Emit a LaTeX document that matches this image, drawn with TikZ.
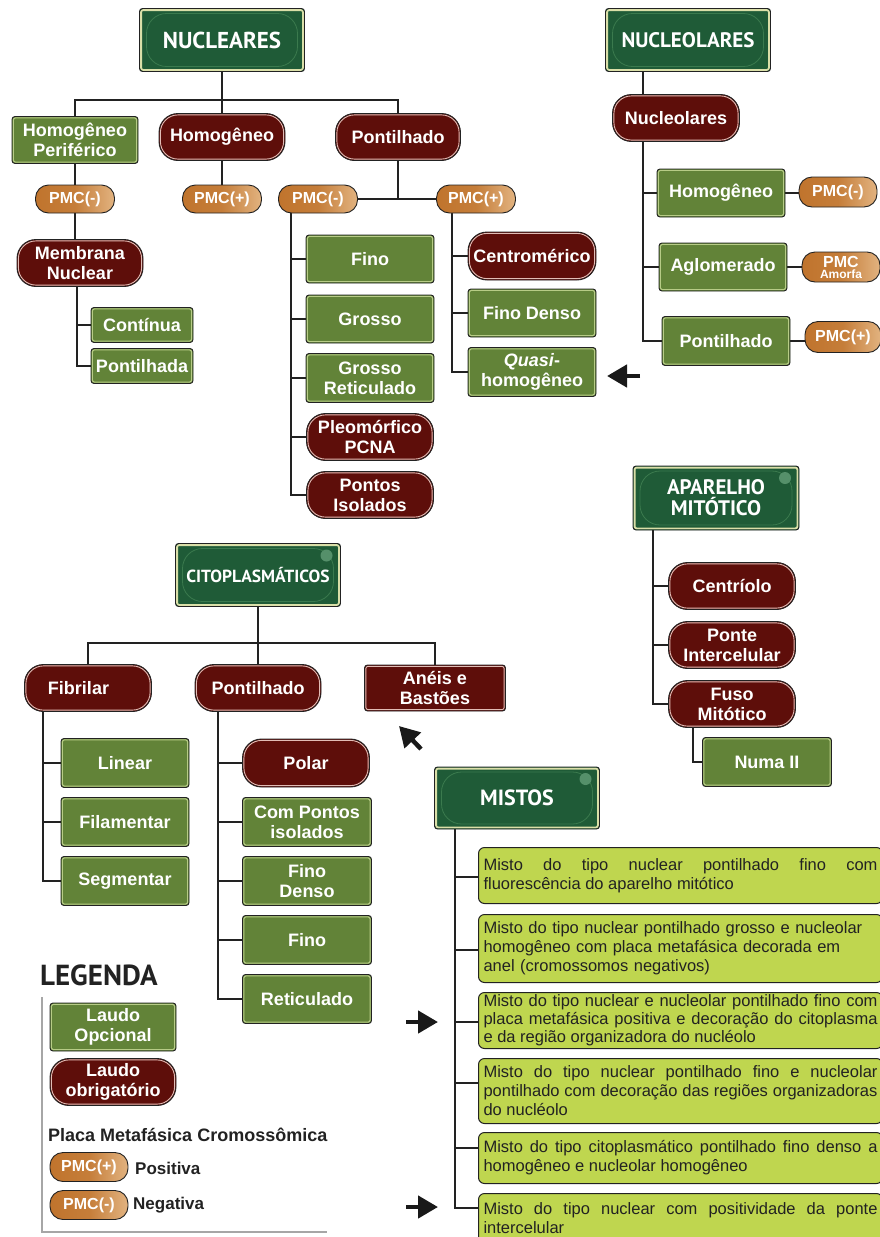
\documentclass[tikz,border=0pt]{standalone}
\usepackage{fontspec}
\setmainfont{Liberation Sans}
\newfontfamily\hdfont{PT Sans}
\usetikzlibrary{arrows.meta}
\pgfdeclarelayer{bg}
\pgfsetlayers{bg,main}
\definecolor{gfill}{HTML}{628338}
\definecolor{gline}{HTML}{B7CC86}
\definecolor{rfill}{HTML}{5E0E0A}
\definecolor{rline}{HTML}{E2BDB6}
\definecolor{hfill}{HTML}{1F5B37}
\definecolor{hcream}{HTML}{DADFA8}
\definecolor{hpill}{HTML}{3B7A4E}
\definecolor{hcirc}{HTML}{55906A}
\definecolor{pmcA}{HTML}{C0742D}
\definecolor{pmcB}{HTML}{E2B380}
\definecolor{lime}{HTML}{BFD64F}
\definecolor{ink}{HTML}{222222}
\newcommand\hdrdeco{%
 \draw[hcream, line width=1.8pt, rounded corners=2pt] ([shift={(1.6pt,-1.6pt)}]path picture bounding box.north west) rectangle ([shift={(-1.6pt,1.6pt)}]path picture bounding box.south east);
 \draw[hpill, line width=0.8pt, rounded corners=20pt] ([shift={(7pt,-5pt)}]path picture bounding box.north west) rectangle ([shift={(-7pt,5pt)}]path picture bounding box.south east);}
\newcommand\hdrcirc{\fill[hcirc] ([shift={(-14pt,-12pt)}]path picture bounding box.north east) circle[radius=6pt];}
\newcommand\mfont{\fontsize{16.5}{19}\selectfont\hyphenpenalty=10000\relax\tolerance=9999\relax}
\newcommand\mfontb{\fontsize{16.5}{18}\selectfont\hyphenpenalty=10000\relax\tolerance=9999\relax}
\tikzset{
 hdr/.style={inner sep=0pt, align=center, text=white, rounded corners=3pt, fill=hfill, draw=ink, line width=0.9pt, minimum width=165pt, minimum height=63pt, path picture={\hdrdeco}},
 hdrc/.style={hdr, path picture={\hdrdeco\hdrcirc}},
 gbox/.style={inner sep=0pt, align=center, text=white, font=\bfseries\fontsize{18}{20}\selectfont, rounded corners=3pt, fill=gfill, draw=ink, line width=0.9pt, minimum width=128pt, minimum height=48pt,
   path picture={\draw[gline, line width=1.1pt, rounded corners=2pt] ([shift={(1.4pt,-1.4pt)}]path picture bounding box.north west) rectangle ([shift={(-1.4pt,1.4pt)}]path picture bounding box.south east);}},
 rbox/.style={inner sep=0pt, align=center, text=white, font=\bfseries\fontsize{18}{20}\selectfont, rounded corners=19pt, fill=rfill, draw=ink, line width=0.9pt, minimum width=127pt, minimum height=47pt,
   path picture={\draw[rline, line width=0.9pt, rounded corners=17.6pt] ([shift={(1.4pt,-1.4pt)}]path picture bounding box.north west) rectangle ([shift={(-1.4pt,1.4pt)}]path picture bounding box.south east);}},
 rsq/.style={rbox, rounded corners=3pt,
   path picture={\draw[rline, line width=0.9pt, rounded corners=2pt] ([shift={(1.4pt,-1.4pt)}]path picture bounding box.north west) rectangle ([shift={(-1.4pt,1.4pt)}]path picture bounding box.south east);}},
 pmc/.style={inner sep=0pt, align=center, text=white, font=\bfseries\fontsize{16}{18}\selectfont, rounded corners=13pt, left color=pmcA, right color=pmcB, middle color=pmcA!85!pmcB, draw=ink, line width=0.9pt, minimum width=79pt, minimum height=28pt},
 mbox/.style={anchor=north west, rounded corners=6pt, fill=lime, draw=ink, line width=1pt, text width=394pt, inner xsep=5pt, inner ysep=0pt, align=justify, text=ink, font=\mfont},
 legtxt/.style={anchor=west, inner sep=0pt, text=ink, font=\bfseries\fontsize{17}{20}\selectfont},
 conn/.style={draw=ink, line width=2.6pt},
 bigarr/.style={draw=black!90, line width=4.5pt, -{Triangle[length=20pt,width=22pt]}},
}
\begin{document}
\begin{tikzpicture}[x=1pt,y=-1pt]
\useasboundingbox (0,0) rectangle (880,1237);
% ---------- NUCLEARES
\node[hdr, font=\hdfont\bfseries\fontsize{23}{26}\selectfont] (nuc) at (222,40) {NUCLEARES};
\node[gbox, minimum width=126pt, minimum height=47pt] (hp) at (75,140) {Homogêneo\\Periférico};
\node[rbox, minimum width=126pt] (hom) at (222,137) {Homogêneo};
\node[rbox, minimum width=125pt] (pont) at (398,137) {Pontilhado};
\node[pmc] (p1) at (75,199) {PMC(-)};
\node[pmc] (p2) at (222,199) {PMC(+)};
\node[pmc] (p3) at (318,199) {PMC(-)};
\node[pmc] (p4) at (476,199) {PMC(+)};
\node[rbox, minimum width=126pt] (memb) at (80,263) {Membrana\\Nuclear};
\node[gbox, minimum width=102pt, minimum height=35pt] (cont) at (142,325) {Contínua};
\node[gbox, minimum width=102pt, minimum height=35pt] (pontd) at (142,366) {Pontilhada};
\node[gbox] (fino) at (370,259) {Fino};
\node[gbox] (grosso) at (370,319) {Grosso};
\node[gbox, minimum height=49pt] (gret) at (370,378) {Grosso\\Reticulado};
\node[rbox] (pleo) at (370,437) {Pleomórfico\\PCNA};
\node[rbox] (pisol) at (370,495) {Pontos\\Isolados};
\node[rbox, minimum width=128pt, minimum height=48pt] (centro) at (532,256) {Centromérico};
\node[gbox] (fdenso) at (532,313) {Fino Denso};
\node[gbox, minimum height=49pt] (quasi) at (532,372) {\textit{Quasi}-\\homogêneo};
% ---------- NUCLEOLARES
\node[hdr, font=\hdfont\bfseries\fontsize{21}{24}\selectfont] (nucl) at (688,40) {NUCLEOLARES};
\node[rbox] (nred) at (676,118) {Nucleolares};
\node[gbox] (nhom) at (721,193) {Homogêneo};
\node[gbox] (aglo) at (723,267) {Aglomerado};
\node[gbox, minimum height=49pt] (npont) at (726,341) {Pontilhado};
\node[pmc, minimum width=78pt, minimum height=30pt] (p5) at (838,192) {PMC(-)};
\node[pmc, minimum width=78pt, minimum height=30pt, font=\bfseries\fontsize{12}{11}\selectfont] (p6) at (841,267) {{\fontsize{16}{11}\selectfont PMC}\\Amorfa};
\node[pmc, minimum width=76pt, minimum height=31pt] (p7) at (843,337) {PMC(+)};
% ---------- CITOPLASMATICOS
\node[hdrc, font=\hdfont\bfseries\fontsize{17.5}{20}\selectfont] (cito) at (258,575) {CITOPLASMÁTICOS};
\node[rbox] (fib) at (88,688) {Fibrilar\hspace*{19pt}};
\node[rbox, minimum width=126pt] (cpont) at (258,688) {Pontilhado};
\node[rsq, minimum width=141pt, minimum height=46pt] (aneis) at (435,688) {Anéis e\\Bastões};
\node[gbox, minimum height=49pt] (linear) at (125,763) {Linear};
\node[gbox, minimum height=49pt] (filam) at (125,822) {Filamentar};
\node[gbox, minimum height=49pt] (segm) at (125,881) {Segmentar};
\node[rbox, minimum height=48pt] (polar) at (306,763) {Polar};
\node[gbox, minimum width=129pt, minimum height=49pt] (cpi) at (307,822) {Com Pontos\\isolados};
\node[gbox, minimum width=129pt, minimum height=49pt] (cfd) at (307,881) {Fino\\Denso};
\node[gbox, minimum width=129pt, minimum height=49pt] (cfino) at (307,940) {Fino};
\node[gbox, minimum width=129pt, minimum height=49pt] (cret) at (307,999) {Reticulado};
% ---------- APARELHO MITOTICO
\node[hdrc, minimum width=166pt, minimum height=64pt, font=\hdfont\bfseries\fontsize{21}{21}\selectfont] (apar) at (716,498) {APARELHO\\MITÓTICO};
\node[rbox] (centr) at (732,586) {Centríolo};
\node[rbox] (ponte) at (732,645) {Ponte\\Intercelular};
\node[rbox] (fuso) at (732,704) {Fuso\\Mitótico};
\node[gbox, minimum width=129pt, minimum height=49pt] (numa) at (767,762) {Numa II};
% ---------- MISTOS
\node[hdrc, minimum height=62pt, font=\hdfont\bfseries\fontsize{22}{25}\selectfont] (mist) at (517,798) {MISTOS};
\node[mbox, minimum height=56pt] (m1) at (478,847) {Misto do tipo nuclear pontilhado fino com\linebreak fluorescência do aparelho mitótico};
\node[mbox, minimum height=68pt, align=left] (m2) at (478,914) {Misto do tipo nuclear pontilhado grosso e nucleolar\\homogêneo com placa metafásica decorada em\\anel (cromossomos negativos)};
\node[mbox, minimum height=56pt, font=\mfontb] (m3) at (478,992) {Misto do tipo nuclear e nucleolar pontilhado fino com\linebreak placa metafásica positiva e decoração do citoplasma\linebreak e da região organizadora do nucléolo};
\node[mbox, minimum height=65pt] (m4) at (478,1058) {Misto do tipo nuclear pontilhado fino e nucleolar\linebreak pontilhado com decoração das regiões organizadoras\linebreak do nucléolo};
\node[mbox, minimum height=51pt] (m5) at (478,1132) {Misto do tipo citoplasmático pontilhado fino denso a\linebreak homogêneo e nucleolar homogêneo};
\node[mbox, minimum height=50pt] (m6) at (478,1193) {Misto do tipo nuclear com positividade da ponte\linebreak intercelular};
% ---------- LEGENDA
\node[anchor=west, inner sep=0pt, text=ink, font=\hdfont\bfseries\fontsize{29}{32}\selectfont] (legt) at (40,975) {LEGENDA};
\node[gbox, minimum width=126pt] (lop) at (113,1027) {Laudo\\Opcional};
\node[rbox, minimum width=126pt] (lob) at (113,1082) {Laudo\\obrigatório};
\node[legtxt, font=\bfseries\fontsize{18}{20}\selectfont] (plab) at (48,1135) {Placa Metafásica Cromossômica};
\node[pmc, minimum width=78pt, minimum height=29pt] (lp1) at (89,1167) {PMC(+)};
\node[legtxt] (lpos) at (135,1168) {Positiva};
\node[pmc, minimum width=78pt, minimum height=29pt] (lp2) at (89,1205) {PMC(-)};
\node[legtxt] (lneg) at (133,1205) {Negativa};
\draw[black!35, line width=1.2pt] (42,997) -- (42,1232) -- (327,1232);
% ---------- arrows
\coordinate (a1s) at (640,376); \coordinate (a1e) at (607,376);
\coordinate (a2s) at (421,749); \coordinate (a2e) at (399,726);
\coordinate (a3s) at (406,1022); \coordinate (a3e) at (438,1022);
\coordinate (a4s) at (406,1207); \coordinate (a4e) at (438,1207);
\draw[bigarr] (a1s) -- (a1e);
\draw[bigarr] (a2s) -- (a2e);
\draw[bigarr] (a3s) -- (a3e);
\draw[bigarr] (a4s) -- (a4e);
% ---------- connectors
\begin{pgfonlayer}{bg}
\coordinate (nb) at (0,100);
\draw[conn] (nuc.south) -- (hom.north);
\draw[conn] (hp.north) -- (hp.north |- nb) -- (pont.north |- nb) -- (pont.north);
\draw[conn] (hom.south) -- (p2.north);
\draw[conn] (hp.south) -- (p1.north);
\draw[conn] (p1.south) -- (p1.south |- memb.north);
\coordinate (mtr) at (77,287);
\draw[conn] (mtr) |- (pontd.west);
\draw[conn] (mtr |- cont.west) -- (cont.west);
\draw[conn] (pont.south) -- (pont.south |- p3.east);
\draw[conn] (p3.east) -- (p4.west);
\coordinate (t3) at (291,213);
\draw[conn] (t3) |- (pisol.west);
\foreach \n in {fino,grosso,gret,pleo} \draw[conn] (t3 |- \n.west) -- (\n.west);
\coordinate (t4) at (452,213);
\draw[conn] (t4) |- (quasi.west);
\foreach \n in {centro,fdenso} \draw[conn] (t4 |- \n.west) -- (\n.west);
\coordinate (ntop) at (643,72);
\draw[conn] (ntop) |- (npont.west);
\foreach \n in {nhom,aglo} \draw[conn] (ntop |- \n.west) -- (\n.west);
\draw[conn] (nhom.east) -- (nhom.east -| p5.west);
\draw[conn] (aglo.east) -- (aglo.east -| p6.west);
\draw[conn] (npont.east) -- (npont.east -| p7.west);
\coordinate (cb) at (0,643);
\draw[conn] (cito.south) -- (cito.south |- cb);
\draw[conn] (fib.north) -- (fib.north |- cb) -- (aneis.north |- cb) -- (aneis.north);
\draw[conn] (cpont.north |- cb) -- (cpont.north);
\coordinate (ftr) at (43,712);
\draw[conn] (ftr) |- (segm.west);
\foreach \n in {linear,filam} \draw[conn] (ftr |- \n.west) -- (\n.west);
\coordinate (ctr) at (218,712);
\draw[conn] (ctr) |- (cret.west);
\foreach \n in {polar,cpi,cfd,cfino} \draw[conn] (ctr |- \n.west) -- (\n.west);
\coordinate (atr) at (653,530);
\draw[conn] (atr) |- (fuso.west);
\foreach \n in {centr,ponte} \draw[conn] (atr |- \n.west) -- (\n.west);
\coordinate (fstr) at (693,728);
\draw[conn] (fstr) |- (numa.west);
\coordinate (mtop) at (455,829);
\coordinate (mb1) at ([yshift=-30pt]m1.north west);
\coordinate (mb2) at ([yshift=-36pt]m2.north west);
\coordinate (mb3) at ([yshift=-30pt]m3.north west);
\coordinate (mb4) at ([yshift=-25pt]m4.north west);
\coordinate (mb5) at ([yshift=-16pt]m5.north west);
\coordinate (mb6) at ([yshift=-15pt]m6.north west);
\draw[conn] (mtop) |- (mb6);
\foreach \n in {mb1,mb2,mb3,mb4,mb5} \draw[conn] (mtop |- \n) -- (\n);
\end{pgfonlayer}
\end{tikzpicture}
\end{document}
